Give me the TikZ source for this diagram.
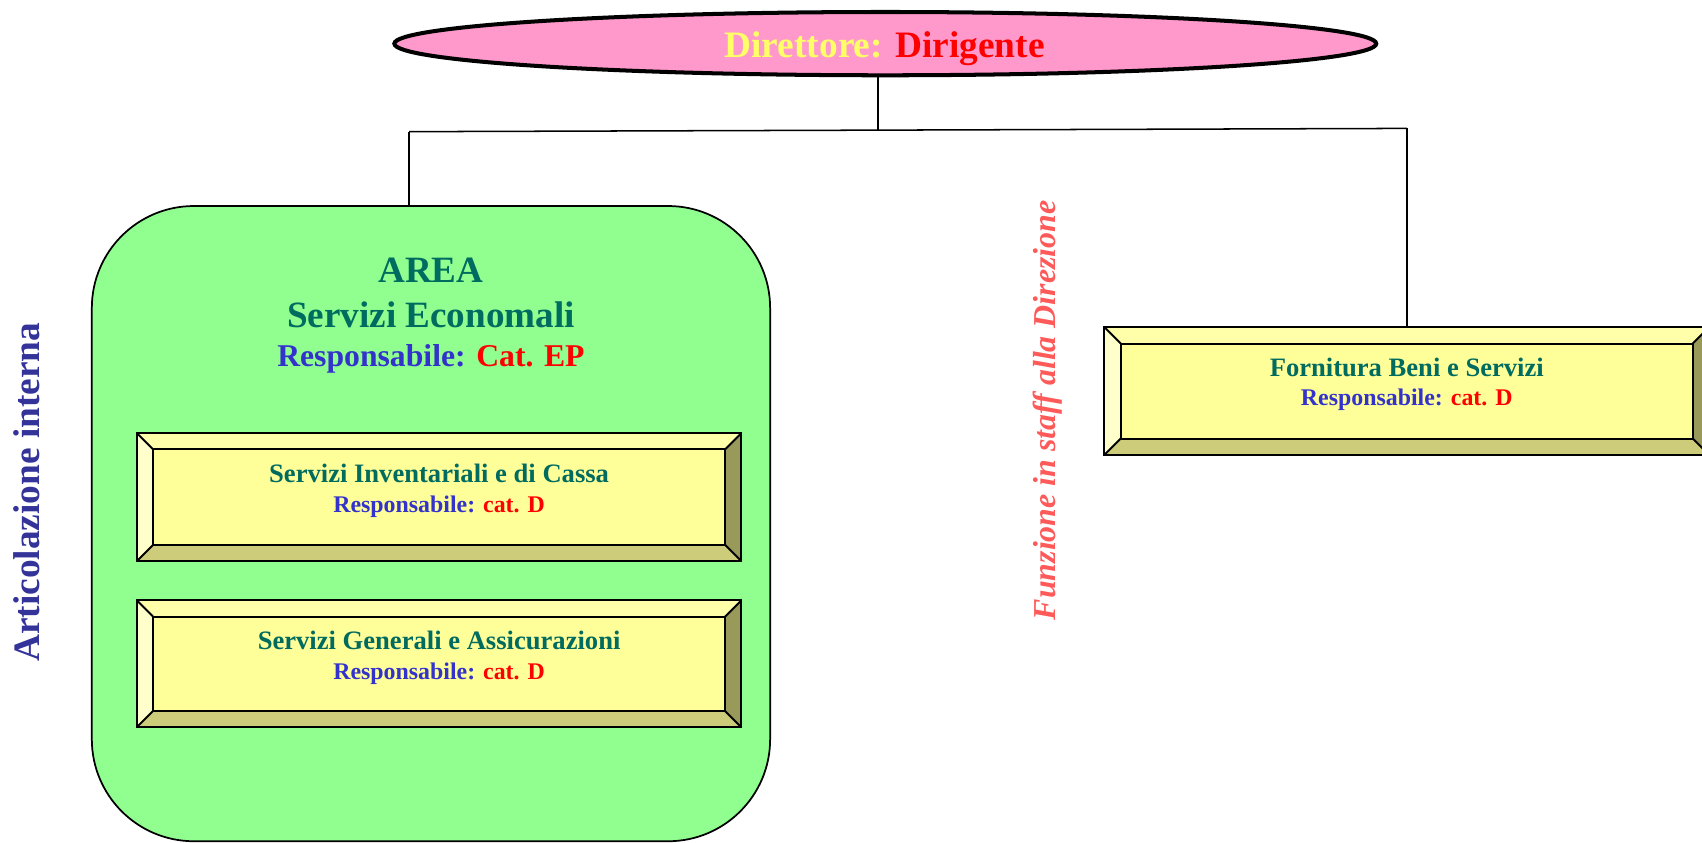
\documentclass[tikz,border=0pt]{standalone}
\usepackage{fontspec}
\setmainfont{Liberation Serif}
\usetikzlibrary{shapes.geometric,fit}
\definecolor{pinkfill}{HTML}{FF99CC}
\definecolor{diryel}{HTML}{FFFF66}
\definecolor{redtxt}{HTML}{FF0000}
\definecolor{areagreen}{HTML}{90FF90}
\definecolor{tealtxt}{HTML}{006B5F}
\definecolor{bluetxt}{HTML}{3333CC}
\definecolor{navytxt}{HTML}{333399}
\definecolor{salmontxt}{HTML}{FF5A5A}
\definecolor{bevface}{HTML}{FFFF99}
\definecolor{bevtop}{HTML}{FFFFAA}
\definecolor{bevleft}{HTML}{FFFFCC}
\definecolor{bevbottom}{HTML}{CCCC7A}
\definecolor{bevright}{HTML}{99995A}
\tikzset{
  conn/.style={draw=black, line width=0.7pt},
  bevline/.style={draw=black, line width=0.9pt},
  txt/.style={inner sep=0pt, anchor=base, font=\bfseries},
}
% bevelled box: name, x1, y1, x2, y2 (picture units, y downward)
\newcommand\bevbox[5]{%
  \fill[bevface] (#2,#3) rectangle (#4,#5);
  \fill[bevtop] (#2,#3) -- (#4,#3) -- (#4-15,#3+15) -- (#2+15,#3+15) -- cycle;
  \fill[bevleft] (#2,#3) -- (#2+15,#3+15) -- (#2+15,#5-15) -- (#2,#5) -- cycle;
  \fill[bevbottom] (#2,#5) -- (#2+15,#5-15) -- (#4-15,#5-15) -- (#4,#5) -- cycle;
  \fill[bevright] (#4,#3) -- (#4,#5) -- (#4-15,#5-15) -- (#4-15,#3+15) -- cycle;
  \draw[bevline] (#2,#3) rectangle (#4,#5);
  \draw[bevline] (#2+15,#3+15) rectangle (#4-15,#5-15);
  \draw[bevline] (#2,#3) -- (#2+15,#3+15) (#4,#3) -- (#4-15,#3+15)
                 (#2,#5) -- (#2+15,#5-15) (#4,#5) -- (#4-15,#5-15);
  \node[fit={(#2,#3) (#4,#5)}, inner sep=0pt] (#1) {};
}
\begin{document}
\begin{tikzpicture}[x=0.5pt, y=-0.5pt]
\useasboundingbox (0,0) rectangle (1568,776);

% director ellipse
\node[ellipse, draw=black, line width=1.85pt, fill=pinkfill, inner sep=0pt,
      minimum width=452.3pt, minimum height=29.15pt] (dir) at (815.6,40.2) {};
\node[txt, font=\bfseries\fontsize{17.2}{20}\selectfont] (dirtxt) at (815,52.8)
  {\textcolor{diryel}{Direttore:} \textcolor{redtxt}{Dirigente}};

% green area
\node[draw=black, line width=0.8pt, fill=areagreen, rounded corners=47pt,
      fit={(84.6,189.8) (709.5,775)}, inner sep=0pt] (area) {};
\node[txt, text=tealtxt, font=\bfseries\fontsize{17.1}{20}\selectfont] (areat1) at (397,260.4) {AREA};
\node[txt, text=tealtxt, font=\bfseries\fontsize{17.1}{20}\selectfont] (areat2) at (397,301.9) {Servizi Economali};
\node[txt, font=\bfseries\fontsize{14.6}{17}\selectfont] (areat3) at (397,337.8)
  {\textcolor{bluetxt}{Responsabile:} \textcolor{redtxt}{Cat. EP}};

% boxes
\bevbox{b1}{126}{399}{683}{517}
\node[txt, text=tealtxt, font=\bfseries\fontsize{12.25}{14}\selectfont] (b1t1) at (404.5,444.7) {Servizi Inventariali e di Cassa};
\node[txt, font=\bfseries\fontsize{11}{13}\selectfont] (b1t2) at (404.5,472.3)
  {\textcolor{bluetxt}{Responsabile:} \textcolor{redtxt}{cat. D}};

\bevbox{b2}{126}{553}{683}{670}
\node[txt, text=tealtxt, font=\bfseries\fontsize{12.25}{14}\selectfont] (b2t1) at (404.5,598.7) {Servizi Generali e Assicurazioni};
\node[txt, font=\bfseries\fontsize{11}{13}\selectfont] (b2t2) at (404.5,626.3)
  {\textcolor{bluetxt}{Responsabile:} \textcolor{redtxt}{cat. D}};

\bevbox{b3}{1017.5}{301.5}{1574.5}{419}
\node[txt, text=tealtxt, font=\bfseries\fontsize{12.25}{14}\selectfont] (b3t1) at (1296,347) {Fornitura Beni e Servizi};
\node[txt, font=\bfseries\fontsize{11}{13}\selectfont] (b3t2) at (1296,374)
  {\textcolor{bluetxt}{Responsabile:} \textcolor{redtxt}{cat. D}};

% connectors
\coordinate (hub) at (809,120);
\coordinate (jl) at (377,121.3);
\coordinate (jr) at (1296,118.3);
\draw[conn] (hub |- dir.south) -- (hub);
\draw[conn] (jl) -- (jr);
\draw[conn] (jl) -- (jl |- area.north);
\draw[conn] (jr) -- (jr |- b3.north);

% vertical labels
\node[txt, rotate=90, text=navytxt, font=\bfseries\fontsize{17.2}{20}\selectfont] (artic) at (36.5,453.5) {Articolazione interna};
\node[txt, rotate=90, text=salmontxt, font=\bfseries\itshape\fontsize{14.7}{17}\selectfont] (staff) at (972,378) {Funzione in staff alla Direzione};
\end{tikzpicture}
\end{document}
